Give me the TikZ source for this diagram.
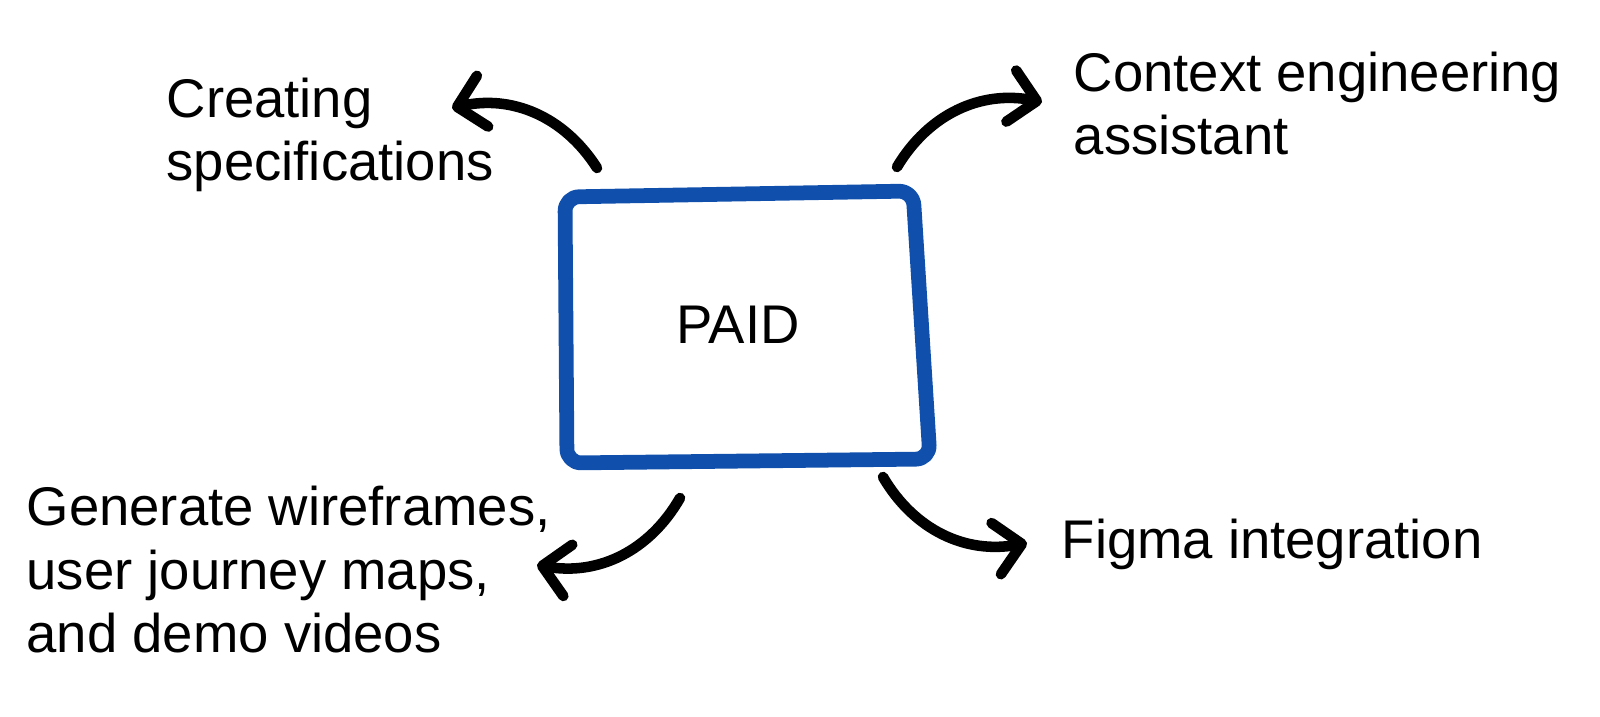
\documentclass[tikz,border=0pt]{standalone}
\usepackage{fontspec}
\setmainfont{Liberation Sans}
\usetikzlibrary{arrows.meta}
\definecolor{paidblue}{RGB}{16,80,172}

\begin{document}
\begin{tikzpicture}[every node/.style={font=\fontsize{15.5}{18.2}\selectfont},
  sidetext/.style={align=left,anchor=base west,inner sep=0pt},
  paidbox/.style={draw=paidblue,line width=4.2pt,rounded corners=4pt,line join=round},
  curved/.style={line width=3pt,line cap=round,
    -{Straight Barb[length=2.6mm,width=5.2mm,round]}}]
  \useasboundingbox (0,0) rectangle (16,7.16);
  % central box, slightly skewed like the sketch
  \draw[paidbox] (5.65,5.19) -- (9.13,5.25) -- (9.30,2.57) -- (5.67,2.53) -- cycle;
  \node (paid) at (7.38,3.91) {PAID};
  \node[sidetext] (spec) at (1.66,5.35) {Creating\\specifications};
  \node[sidetext] (context) at (10.73,5.61) {Context engineering\\assistant};
  \node[sidetext] (wire) at (0.26,0.63) {Generate wireframes,\\user journey maps,\\and demo videos};
  \node[sidetext] (figma) at (10.61,1.57) {Figma integration};
  \coordinate (s1) at (5.97,5.48); \coordinate (e1) at (4.52,6.08);
  \coordinate (s2) at (8.97,5.49); \coordinate (e2) at (10.42,6.14);
  \coordinate (s3) at (6.80,2.18); \coordinate (e3) at (5.37,1.51);
  \coordinate (s4) at (8.83,2.39); \coordinate (e4) at (10.27,1.73);
  \draw[curved] (s1) to[bend right=35] (e1);
  \draw[curved] (s2) to[bend left=35] (e2);
  \draw[curved] (s3) to[bend left=35] (e3);
  \draw[curved] (s4) to[bend right=35] (e4);
\end{tikzpicture}
\end{document}
